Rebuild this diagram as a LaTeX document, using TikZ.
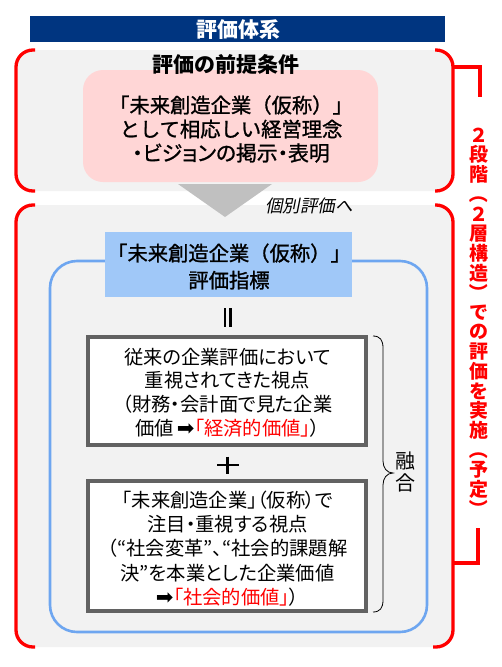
\documentclass[tikz,border=0pt]{standalone}
\usepackage{fontspec}
\setmainfont{Noto Sans CJK JP}
\newfontfamily\jpp[RawFeature=+palt]{Noto Sans CJK JP}
\newfontfamily\jpm[FakeBold=1.2]{Noto Sans CJK JP}
\newfontfamily\jppm[RawFeature=+palt,FakeBold=1.2]{Noto Sans CJK JP}
\newfontfamily\jpi[FakeSlant=0.2]{Noto Sans CJK JP}
\newfontfamily\dv{DejaVu Sans}
\definecolor{navy}{HTML}{003580}
\definecolor{grayfill}{HTML}{F2F2F2}
\definecolor{pinkfill}{HTML}{FFD6D6}
\definecolor{arrowgray}{HTML}{C0C0C0}
\definecolor{headblue}{HTML}{A0C8F8}
\definecolor{bluestroke}{HTML}{6EA6F0}
\definecolor{boxgray}{HTML}{626262}
\definecolor{redline}{HTML}{FF0000}
\newcommand{\arr}{{\dv\fontsize{21}{21}\selectfont ➡}}
\tikzset{
  redbr/.style={draw=redline, line width=3.3pt, rounded corners=17pt},
  bigbr/.style={draw=redline, line width=3.3pt},
  txt/.style={inner sep=0pt, anchor=center},
  valbox/.style={draw=boxgray, line width=4pt, fill=white, inner sep=0pt},
  vchar/.style={inner sep=0pt, text=redline, font=\fontsize{19}{19}\selectfont\bfseries},
}
\begin{document}
\begin{tikzpicture}[x=1pt,y=-1pt]
\useasboundingbox (0,0) rectangle (501,667);
\fill[white] (0,0) rectangle (501,667);
% title bar
\fill[navy] (30,16) rectangle (445,42);
\node[txt, text=white, font=\fontsize{21}{21}\selectfont\bfseries] (title) at (238,29.5) {評価体系};
% box 1
\fill[grayfill, rounded corners=17pt] (16,50) rectangle (453,191);
\draw[redbr] (35,50) -- (16,50) -- (16,191) -- (35,191);
\draw[redbr] (435,50) -- (453,50) -- (453,191) -- (435,191);
\fill[pinkfill, rounded corners=20pt] (83,70) rectangle (378,182);
\node[txt, font=\fontsize{21}{21}\selectfont\bfseries] (prem) at (226,64) {評価の前提条件};
\node[txt, font=\fontsize{20.3}{24}\selectfont\jpm, align=center] (pinktext) at (231,129)
  {「未来創造企業（仮称）」\\として相応しい経営理念\\{\jppm\fontsize{20.8}{24}\selectfont ・ビジョンの掲示・表明}};
% box 2
\fill[grayfill, rounded corners=17pt] (16,205) rectangle (453,647);
\draw[redbr] (35,205) -- (16,205) -- (16,647) -- (35,647);
\draw[redbr] (435,205) -- (453,205) -- (453,647) -- (433,647);
% arrow
\fill[arrowgray] (178,184) -- (272,184) -- (225,217) -- cycle;
\node[txt, font=\fontsize{17.5}{17.5}\selectfont\jpi] (indiv) at (309,206) {個別評価へ};
% blue frame
\draw[bluestroke, line width=2.6pt, rounded corners=27pt] (50,261) rectangle (427,632);
\fill[headblue] (105,232) rectangle (352,297);
\node[txt, font=\fontsize{20.3}{27}\selectfont\jpm, align=center] (head) at (229,266.5)
  {「未来創造企業（仮称）」\\評価指標};
% equals (vertical)
\draw[line width=2.7pt] (225,308) -- (225,327);
\draw[line width=2.7pt] (230.8,308) -- (230.8,327);
% box A
\node[valbox, minimum width=278.5pt, minimum height=107.7pt] (boxA) at (226.75,390.85) {};
\node[txt, font=\fontsize{19.3}{23.7}\selectfont\jpp, align=center] (textA) at (227.5,392.5)
  {従来の企業評価において\\重視されてきた視点\\（財務・会計面で見た企業\\価値\,\arr\textcolor{redline}{「経済的価値」}）};
% plus
\draw[line width=2.8pt] (217,465) -- (238.5,465);
\draw[line width=2.8pt] (227.7,456.5) -- (227.7,474);
% box B
\node[valbox, minimum width=278.5pt, minimum height=130.3pt] (boxB) at (226.75,546.15) {};
\node[txt, font=\fontsize{19.3}{24.2}\selectfont\jpp, align=center] (textB) at (227.5,548.5)
  {「未来創造企業」（仮称）で\\注目・重視する視点\\（“社会変革”、“社会的課題解\\決”を本業とした企業価値\\\arr\textcolor{redline}{「社会的価値」}）};
% brace
\draw[line width=0.8pt] (373,336) .. controls (380,336) and (383,340) .. (383,348) -- (383,461)
  .. controls (383,468) and (387,473) .. (393,473) .. controls (387,473) and (383,478) .. (383,485)
  -- (383,600) .. controls (383,608) and (380,612) .. (373,612);
\node[txt, font=\fontsize{20}{22.5}\selectfont, align=center] (fuse) at (405,472) {融\\合};
% big bracket
\draw[bigbr] (453,67) -- (480,67) -- (480,97);
\draw[bigbr] (478,528) -- (478,563) -- (453,563);
\foreach \c/\r [count=\i from 0] in {２/0,段/0,階/0,（/-90,２/0,層/0,構/0,造/0,）/-90,で/0,の/0,評/0,価/0,を/0,実/0,施/0,（/-90,予/0,定/0,）/-90}
  \node[vchar, rotate=\r] (v\i) at (479,{135+19.7*\i}) {\c};
\end{tikzpicture}
\end{document}
